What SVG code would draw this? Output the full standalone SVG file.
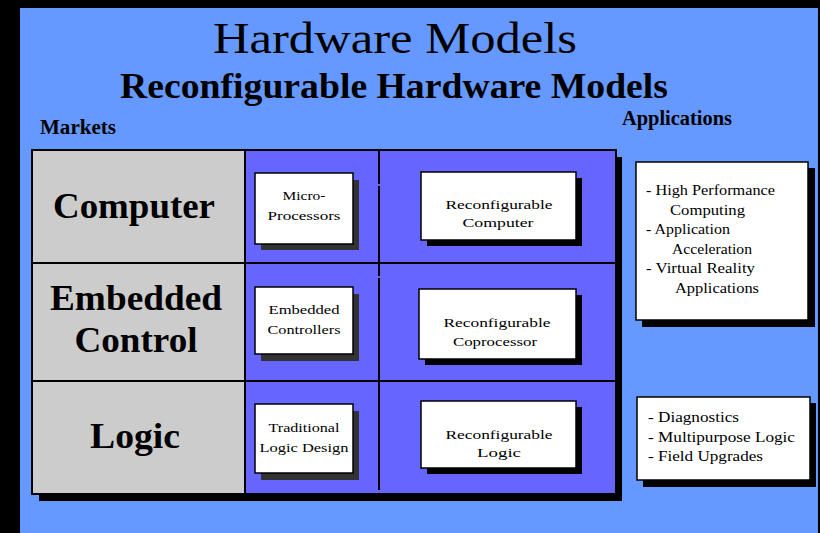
<svg xmlns="http://www.w3.org/2000/svg" width="820" height="533" viewBox="0 0 820 533">
<defs>
<style>
.t{font-family:"Liberation Serif","Times New Roman",serif;fill:#000}
.box{fill:#fff;stroke:#000;stroke-width:1.5}
.sh{fill:#000}
.sh2{fill:#333}
.bt{font-family:"Liberation Serif","Times New Roman",serif;font-size:13.5px;text-anchor:middle;fill:#000}
.at{font-family:"Liberation Serif","Times New Roman",serif;font-size:14px;fill:#000}
.lbl{font-family:"Liberation Serif","Times New Roman",serif;font-size:35px;font-weight:bold;text-anchor:middle;fill:#000}
.ln{stroke:#000;stroke-width:2;fill:none}
</style>
</defs>
<rect x="0" y="0" width="820" height="533" fill="#000"/>
<rect x="20" y="8" width="798" height="525" fill="#6699FF"/>
<g id="titles">
<text class="t" x="395" y="53" font-size="44" text-anchor="middle" textLength="364" lengthAdjust="spacingAndGlyphs">Hardware Models</text>
<text class="t" x="394" y="98" font-size="35" font-weight="bold" text-anchor="middle" textLength="548" lengthAdjust="spacingAndGlyphs">Reconfigurable Hardware Models</text>
<text class="t" x="40" y="134" font-size="20" font-weight="bold" textLength="76" lengthAdjust="spacingAndGlyphs">Markets</text>
<text class="t" x="622" y="125" font-size="20" font-weight="bold" textLength="110" lengthAdjust="spacingAndGlyphs">Applications</text>
</g>
<g id="table">
<rect x="39" y="157" width="583" height="344" class="sh"/>
<rect x="33" y="151" width="212" height="343" fill="#CCCCCC"/>
<rect x="245" y="151" width="371" height="343" fill="#6666FF"/>
<rect x="32" y="150" width="584" height="344" fill="none" stroke="#000" stroke-width="2"/>
<line class="ln" x1="245" y1="150" x2="245" y2="494"/>
<line class="ln" x1="32" y1="263" x2="616" y2="263"/>
<line class="ln" x1="32" y1="381" x2="616" y2="381"/>
<line class="ln" x1="379" y1="151" x2="379" y2="184"/>
<line class="ln" x1="379" y1="186" x2="379" y2="276"/>
<line class="ln" x1="379" y1="278" x2="379" y2="490"/>
</g>
<g id="market-computer"><text class="lbl" x="134" y="218" textLength="162" lengthAdjust="spacingAndGlyphs">Computer</text></g>
<g id="market-embedded"><text class="lbl" x="136" y="310" textLength="172" lengthAdjust="spacingAndGlyphs">Embedded</text><text class="lbl" x="136" y="352" textLength="123" lengthAdjust="spacingAndGlyphs">Control</text></g>
<g id="market-logic"><text class="lbl" x="135" y="448" textLength="90" lengthAdjust="spacingAndGlyphs">Logic</text></g>
<g id="micro">
<rect class="sh2" x="261" y="180" width="98" height="70"/>
<rect class="box" x="255" y="173" width="98" height="71"/>
<text class="bt" x="304" y="200" textLength="43" lengthAdjust="spacingAndGlyphs">Micro-</text><text class="bt" x="304" y="220" textLength="73" lengthAdjust="spacingAndGlyphs">Processors</text>
</g>
<g id="embedded-controllers">
<rect class="sh2" x="261" y="294" width="98" height="67"/>
<rect class="box" x="255" y="287" width="98" height="67"/>
<text class="bt" x="304" y="314" textLength="71" lengthAdjust="spacingAndGlyphs">Embedded</text><text class="bt" x="304" y="334" textLength="73" lengthAdjust="spacingAndGlyphs">Controllers</text>
</g>
<g id="traditional">
<rect class="sh2" x="261" y="411" width="98" height="69"/>
<rect class="box" x="255" y="404" width="98" height="69"/>
<text class="bt" x="304" y="432" textLength="71" lengthAdjust="spacingAndGlyphs">Traditional</text><text class="bt" x="304" y="452" textLength="89" lengthAdjust="spacingAndGlyphs">Logic Design</text>
</g>
<g id="reconf-computer">
<rect class="sh" x="427" y="178" width="155" height="68"/>
<rect class="box" x="421" y="172" width="155" height="68"/>
<text class="bt" x="499" y="209" textLength="107" lengthAdjust="spacingAndGlyphs">Reconfigurable</text><text class="bt" x="498" y="227" textLength="71" lengthAdjust="spacingAndGlyphs">Computer</text>
</g>
<g id="reconf-coprocessor">
<rect class="sh" x="425" y="295" width="157" height="70"/>
<rect class="box" x="419" y="289" width="157" height="70"/>
<text class="bt" x="497" y="327" textLength="107" lengthAdjust="spacingAndGlyphs">Reconfigurable</text><text class="bt" x="495" y="346" textLength="84" lengthAdjust="spacingAndGlyphs">Coprocessor</text>
</g>
<g id="reconf-logic">
<rect class="sh" x="427" y="407" width="155" height="67"/>
<rect class="box" x="421" y="401" width="155" height="67"/>
<text class="bt" x="499" y="439" textLength="107" lengthAdjust="spacingAndGlyphs">Reconfigurable</text><text class="bt" x="499" y="457" textLength="44" lengthAdjust="spacingAndGlyphs">Logic</text>
</g>
<g id="apps-computer">
<rect class="sh" x="642" y="168" width="173" height="159"/>
<rect class="box" x="636" y="162" width="172" height="158"/>
<text class="at" x="646" y="195" textLength="129" lengthAdjust="spacingAndGlyphs">- High Performance</text>
<text class="at" x="670" y="215" textLength="75" lengthAdjust="spacingAndGlyphs">Computing</text>
<text class="at" x="646" y="234" textLength="84" lengthAdjust="spacingAndGlyphs">- Application</text>
<text class="at" x="672" y="254" textLength="80" lengthAdjust="spacingAndGlyphs">Acceleration</text>
<text class="at" x="646" y="273" textLength="109" lengthAdjust="spacingAndGlyphs">-  Virtual Reality</text>
<text class="at" x="675" y="293" textLength="84" lengthAdjust="spacingAndGlyphs">Applications</text>
</g>
<g id="apps-logic">
<rect class="sh" x="643" y="403" width="173" height="84"/>
<rect class="box" x="637" y="397" width="173" height="83"/>
<text class="at" x="648" y="422" textLength="91" lengthAdjust="spacingAndGlyphs">-  Diagnostics</text>
<text class="at" x="648" y="442" textLength="147" lengthAdjust="spacingAndGlyphs">-  Multipurpose  Logic</text>
<text class="at" x="648" y="461" textLength="115" lengthAdjust="spacingAndGlyphs">-  Field Upgrades</text>
</g>
<g id="connectors"></g>
</svg>
